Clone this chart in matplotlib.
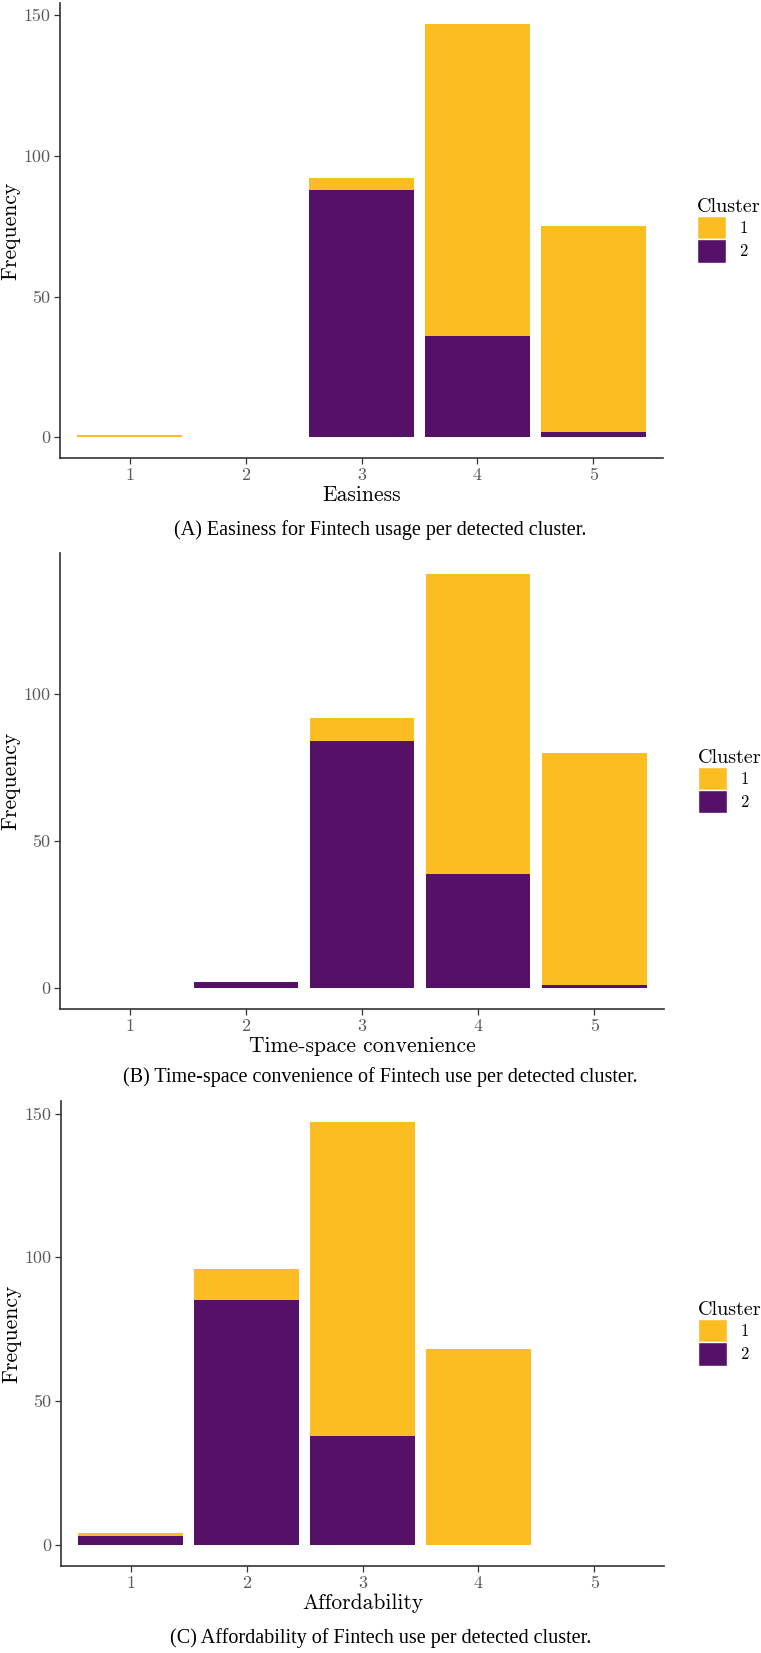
import numpy as np
import matplotlib
matplotlib.use("Agg")
import matplotlib.pyplot as plt
from matplotlib.patches import Patch

# data
levels = [1, 2, 3, 4, 5]

easiness_c1 = [1, 0, 4, 111, 73]
easiness_c2 = [0, 0, 88, 36, 2]

timespace_c1 = [0, 0, 8, 102, 79]
timespace_c2 = [0, 2, 84, 39, 1]

afford_c1 = [1, 11, 109, 68, 0]
afford_c2 = [3, 85, 38, 0, 0]

x_titles = ["Easiness", "Time-space convenience", "Affordability"]
captions = ["(A) Easiness for Fintech usage per detected cluster.",
            "(B) Time-space convenience of Fintech use per detected cluster.",
            "(C) Affordability of Fintech use per detected cluster."]
cluster_names = ["1", "2"]

yellow = '#FBBD22'
purple = '#551068'

W, H = 761, 1653
fig = plt.figure(figsize=(W / 100, H / 100), dpi=100)

# panel boxes in pixels: left, right, top, bottom
boxes = [(60, 663, 3, 458), (60, 664, 553, 1009), (61, 664, 1101, 1566)]
cap_y = [530, 1077, 1638]

panels = [(easiness_c1, easiness_c2), (timespace_c1, timespace_c2), (afford_c1, afford_c2)]

for i in range(3):
    l, r, t, b = boxes[i]
    ax = fig.add_axes([l / W, 1 - b / H, (r - l) / W, (b - t) / H])
    c1 = np.array(panels[i][0])
    c2 = np.array(panels[i][1])
    ax.bar(levels, c2, width=0.9, color=purple, linewidth=0)
    ax.bar(levels, c1, width=0.9, bottom=c2, color=yellow, linewidth=0)
    top = max(c1 + c2)
    ax.set_ylim(-0.05 * top, 1.05 * top)
    ax.set_xlim(0.4, 5.6)
    ax.set_xticks(levels)
    ax.set_yticks([0, 50, 100, 150] if top >= 145 else [0, 50, 100])
    for s in ['top', 'right']:
        ax.spines[s].set_visible(False)
    for s in ['left', 'bottom']:
        ax.spines[s].set_color('#333333')
        ax.spines[s].set_linewidth(1.2)
    ax.tick_params(length=4, width=0.9, color='#333333', labelcolor='#5a5a5a', labelsize=13, pad=3)
    for lab in ax.get_xticklabels() + ax.get_yticklabels():
        lab.set_fontfamily('cmr10')
    ax.set_xlabel(x_titles[i], fontsize=15.5, family='cmr10', va='center')
    ax.set_ylabel("Frequency", fontsize=15.5, family='cmr10')
    ax.xaxis.set_label_coords(0.5, -37 / (b - t))
    ax.yaxis.set_label_coords(-40 / (r - l), 0.5)

    handles = [Patch(facecolor=yellow, edgecolor='white'), Patch(facecolor=purple, edgecolor='white')]
    leg = ax.legend(handles, cluster_names, title="Cluster", loc='center left',
                    bbox_to_anchor=(1.045, 0.5), frameon=False,
                    handlelength=1.75, handleheight=1.75, handletextpad=0.8,
                    labelspacing=0.0, borderaxespad=0,
                    prop={'family': 'cmr10', 'size': 12})
    leg.get_title().set_fontfamily('cmr10')
    leg.get_title().set_fontsize(14.5)
    leg._legend_box.align = 'left'

    fig.text(0.5, 1 - cap_y[i] / H, captions[i], ha='center', va='center',
             family='Liberation Serif', fontsize=14.5)

fig.savefig('out.png', dpi=100)
